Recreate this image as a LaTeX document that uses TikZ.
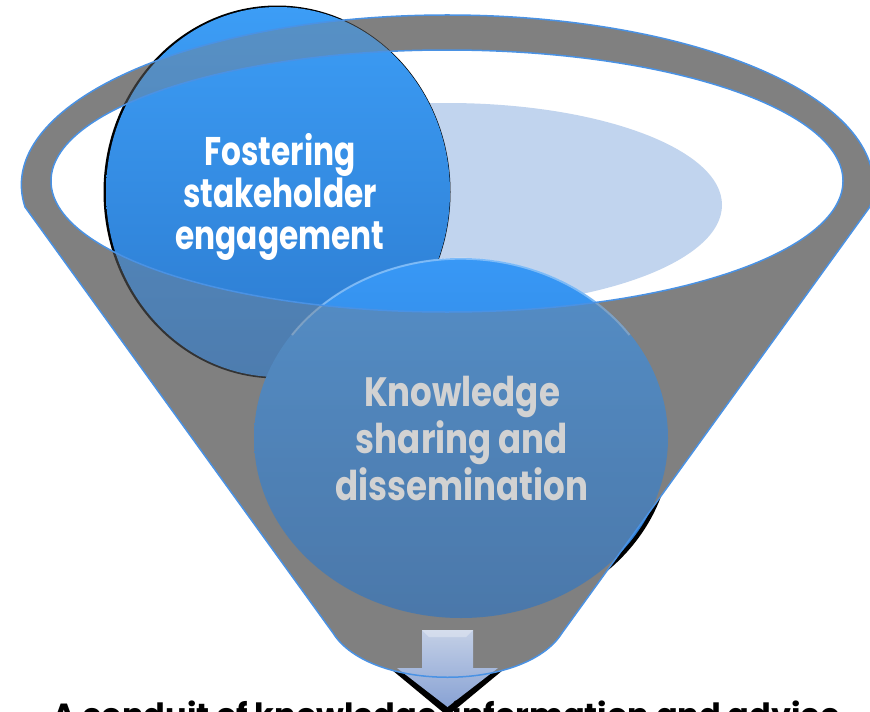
\documentclass[tikz,border=0pt]{standalone}
\usepackage{fontspec}
\newfontfamily\popA{Poppins}[FakeStretch=0.78]
\newfontfamily\popB{Poppins}[FakeStretch=0.83]
\newfontfamily\popC{Poppins}
\definecolor{fgray}{RGB}{128,128,128}
\definecolor{fblue}{RGB}{74,146,228}
\definecolor{liquid}{RGB}{193,212,238}
\definecolor{cAtop}{RGB}{60,157,246}
\definecolor{cAbot}{RGB}{44,122,206}
\definecolor{cBtop}{RGB}{56,152,246}
\definecolor{cBbot}{RGB}{40,115,198}
\definecolor{kgray}{RGB}{210,210,210}
\definecolor{arrowtop}{RGB}{196,208,230}
\definecolor{arrowbot}{RGB}{136,162,212}
\newcommand\funnelpath{(25,207) arc[start angle=172.56, end angle=367.44, x radius=426, y radius=170] -- (562,633) .. controls (525,692) and (370,692) .. (333,633) -- cycle}
\begin{document}
\begin{tikzpicture}[x=1pt,y=-1pt,
  rim/.style={draw=fblue, line width=1.5pt},
  bigtext/.style={font=\popA\bfseries\fontsize{40}{42}\selectfont, align=center},
  bigtextb/.style={font=\popB\bfseries\fontsize{41}{47}\selectfont, align=center}]
\useasboundingbox (0,0) rectangle (870,712);
\clip (0,0) rectangle (870,712);
% shadows hidden mostly by the funnel
\fill[black] (464,441) ellipse [x radius=207, y radius=180];
\fill[black] (386,665) -- (509,665) -- (447.5,716) -- cycle;
% funnel body
\fill[fgray] \funnelpath;
% opening
\fill[white] (447,181) ellipse [x radius=396, y radius=131];
\begin{scope}
  \clip (447,181) ellipse [x radius=396, y radius=131];
  \fill[liquid] (447,205) ellipse [x radius=275, y radius=102];
\end{scope}
% circle 1
\fill[black] (277,192) ellipse [x radius=173.5, y radius=186.5];
\shade[top color=cAtop, bottom color=cAbot] (278,192) ellipse [x radius=172, y radius=185];
% circle 2
\shade[top color=cBtop, bottom color=cBbot] (461,438) ellipse [x radius=207, y radius=180];
\draw[white, draw opacity=0.35, line width=2pt] (292,335) arc[start angle=215, end angle=325, x radius=206, y radius=179];
% front of the funnel over the circles
\fill[fgray, fill opacity=0.4, even odd rule] \funnelpath (447,181) ellipse [x radius=396, y radius=131];
% arrow
\shade[top color=arrowtop, bottom color=arrowbot] (422,630) -- (473,630) -- (473,668) -- (498,668) -- (447.5,707) -- (397,668) -- (422,668) -- cycle;
\fill[white, fill opacity=0.3] (422,630) -- (473,630) -- (466,637) -- (429,637) -- cycle;
% rims
\draw[rim] \funnelpath;
\draw[rim] (447,181) ellipse [x radius=396, y radius=131];
% texts
\node[bigtext, text=white] (foster) at (280,197) {Fostering\\stakeholder\\engagement};
\node[bigtextb, text=kgray] (know) at (462,438) {Knowledge\\sharing and\\dissemination};
\node[anchor=base, font=\popC\bfseries\fontsize{32}{34}\selectfont] (conduit) at (446,726) {A conduit of knowledge, information and advice};
\end{tikzpicture}
\end{document}
